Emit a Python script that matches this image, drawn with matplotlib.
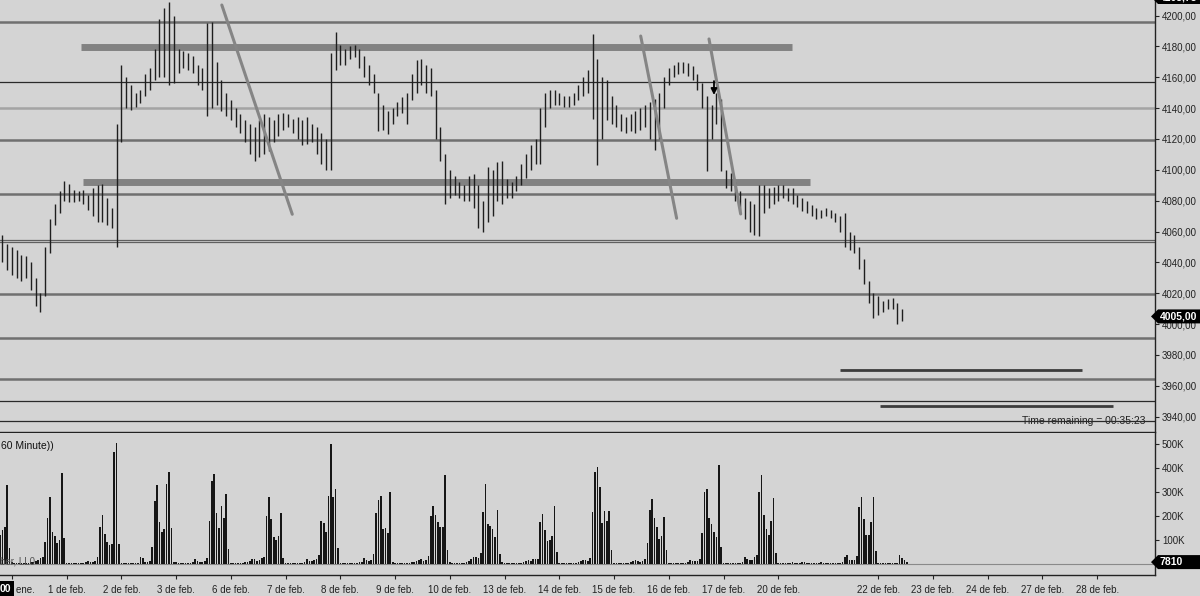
import matplotlib
matplotlib.use("Agg")
import matplotlib.pyplot as plt
from matplotlib.patches import Polygon
import numpy as np

plt.rcParams["font.family"] = ["Liberation Sans", "DejaVu Sans"]

BG = "#d4d4d4"

# ---- price bars (2-hour bars, x in hours from chart start) ----
highs = [
    4058, 4052, 4050, 4048, 4045, 4044, 4040, 4030, 4020, 4050,
    4068, 4078, 4086, 4093, 4091, 4087, 4086, 4087, 4084, 4088,
    4090, 4091, 4082, 4075, 4130, 4168, 4160, 4155, 4150, 4152,
    4162, 4166, 4178, 4198, 4205, 4209, 4200, 4178, 4177, 4176,
    4174, 4168, 4166, 4195, 4196, 4170, 4158, 4150, 4145, 4140,
    4136, 4132, 4130, 4128, 4132, 4136, 4134, 4132, 4136, 4137,
    4136, 4133, 4134, 4132, 4134, 4130, 4128, 4124, 4120, 4176,
    4189, 4181, 4178, 4180, 4181, 4178, 4174, 4168, 4162, 4150,
    4142, 4138, 4140, 4144, 4147, 4150, 4162, 4171, 4172, 4168,
    4166, 4152, 4128, 4110, 4100, 4096, 4092, 4090, 4096, 4097,
    4090, 4080, 4102, 4100, 4105, 4106, 4094, 4092, 4096, 4104,
    4110, 4116, 4120, 4140, 4150, 4152, 4152, 4150, 4148, 4148,
    4150, 4155, 4160, 4165, 4188, 4172, 4160, 4158, 4148, 4142,
    4136, 4134, 4136, 4138, 4140, 4142, 4144, 4146, 4150, 4160,
    4166, 4168, 4170, 4170, 4169, 4167, 4162, 4156, 4148, 4142,
    4150, 4146, 4100, 4098, 4092, 4086, 4082, 4080, 4078, 4090,
    4090, 4088, 4089, 4090, 4090, 4088, 4088, 4084, 4082, 4080,
    4077, 4075, 4074, 4075, 4074, 4072, 4070, 4072, 4060, 4058,
    4050, 4042, 4028, 4020, 4018, 4015, 4016, 4017, 4014, 4010,
]
lows = [
    4040, 4035, 4032, 4030, 4028, 4030, 4022, 4012, 4008, 4018,
    4046, 4064, 4072, 4080, 4079, 4079, 4080, 4078, 4074, 4070,
    4066, 4066, 4064, 4062, 4050, 4118, 4140, 4139, 4141, 4143,
    4148, 4152, 4158, 4160, 4160, 4155, 4156, 4163, 4166, 4165,
    4163, 4155, 4152, 4135, 4140, 4142, 4138, 4135, 4132, 4128,
    4124, 4118, 4110, 4106, 4108, 4110, 4112, 4118, 4122, 4126,
    4128, 4124, 4120, 4116, 4117, 4118, 4110, 4104, 4100, 4100,
    4165, 4168, 4168, 4172, 4173, 4166, 4160, 4155, 4150, 4125,
    4126, 4123, 4130, 4135, 4137, 4130, 4145, 4150, 4155, 4150,
    4148, 4120, 4106, 4078, 4082, 4084, 4082, 4080, 4080, 4075,
    4062, 4060, 4066, 4070, 4080, 4078, 4082, 4082, 4086, 4090,
    4095, 4100, 4104, 4104, 4128, 4140, 4142, 4142, 4141, 4141,
    4142, 4145, 4148, 4150, 4133, 4103, 4120, 4132, 4130, 4128,
    4125, 4124, 4125, 4124, 4126, 4128, 4120, 4113, 4120, 4140,
    4155, 4160, 4162, 4163, 4161, 4158, 4152, 4140, 4099, 4120,
    4130, 4099, 4088, 4086, 4080, 4072, 4068, 4060, 4058, 4057,
    4072, 4075, 4078, 4080, 4082, 4080, 4078, 4076, 4073, 4072,
    4070, 4068, 4069, 4070, 4069, 4066, 4060, 4050, 4048, 4046,
    4036, 4026, 4014, 4004, 4006, 4008, 4010, 4010, 4000, 4002,
]

# ---- hourly volume (K), one list per session ----
vol_pre = [120, 140, 154, 330, 66]
vol_31ene = [8, 6, 5, 4, 5, 4, 6, 5, 9, 7, 12, 18, 24, 28, 93, 192, 280, 135, 117, 87, 100, 380, 108]
vol_1feb = [6, 5, 4, 4, 3, 4, 5, 6, 8, 12, 10, 8, 14, 31, 154, 203, 123, 90, 79, 83, 468, 505, 83]
vol_2feb = [6, 5, 4, 4, 3, 4, 5, 6, 30, 25, 10, 8, 12, 71, 264, 330, 176, 132, 144, 332, 383, 148, 8]
vol_3feb = [7, 5, 4, 4, 3, 5, 6, 8, 20, 14, 10, 9, 14, 25, 180, 345, 375, 211, 151, 240, 190, 292, 61]
vol_6feb = [6, 5, 4, 4, 4, 6, 9, 8, 14, 22, 20, 12, 18, 26, 30, 200, 278, 186, 111, 100, 117, 214, 26]
vol_7feb = [6, 5, 4, 4, 3, 4, 5, 6, 10, 22, 14, 12, 16, 20, 36, 180, 172, 135, 284, 500, 280, 311, 66]
vol_8feb = [6, 5, 4, 4, 3, 4, 5, 6, 8, 10, 24, 18, 12, 16, 40, 211, 267, 284, 144, 148, 128, 298, 10]
vol_9feb = [6, 5, 4, 5, 4, 5, 6, 7, 10, 14, 18, 20, 12, 18, 33, 200, 242, 204, 175, 155, 155, 371, 58]
vol_10feb = [7, 6, 5, 4, 4, 5, 6, 8, 12, 20, 30, 28, 26, 45, 217, 332, 167, 158, 146, 114, 225, 42, 10]
vol_13feb = [6, 5, 4, 4, 3, 4, 5, 6, 8, 12, 15, 14, 20, 21, 21, 175, 208, 142, 97, 100, 117, 243, 50]
vol_14feb = [6, 5, 4, 4, 3, 4, 5, 6, 10, 14, 18, 16, 12, 25, 215, 382, 403, 321, 171, 221, 181, 221, 58]
vol_15feb = [6, 5, 4, 4, 3, 4, 6, 8, 12, 18, 14, 10, 12, 20, 87, 226, 271, 190, 153, 104, 117, 197, 58]
vol_16feb = [6, 5, 4, 4, 3, 4, 5, 6, 10, 16, 14, 12, 14, 22, 128, 301, 311, 190, 167, 135, 111, 414, 71]
vol_17feb = [6, 5, 4, 4, 3, 4, 5, 6, 8, 30, 20, 15, 15, 28, 36, 301, 371, 204, 146, 121, 181, 276, 45]
vol_20feb = [6, 5, 5, 4, 4, 5, 8, 6, 5, 6, 8, 7, 6, 5, 4, 4, 5, 6, 7]
vol_21feb = [6, 5, 4, 4, 3, 4, 5, 6, 8, 30, 36, 15, 16, 18, 35, 236, 278, 186, 120, 121, 175, 281, 55]
vol_22feb = [6, 5, 5, 4, 4, 5, 4, 3, 5, 37, 26, 17, 7.81]

sessions = [vol_31ene, vol_1feb, vol_2feb, vol_3feb, vol_6feb, vol_7feb, vol_8feb,
            vol_9feb, vol_10feb, vol_13feb, vol_14feb, vol_15feb, vol_16feb,
            vol_17feb, vol_20feb, vol_21feb, vol_22feb]
session_labels = ["31 de ene.", "1 de feb.", "2 de feb.", "3 de feb.", "6 de feb.",
                  "7 de feb.", "8 de feb.", "9 de feb.", "10 de feb.", "13 de feb.",
                  "14 de feb.", "15 de feb.", "16 de feb.", "17 de feb.", "20 de feb.",
                  "", "22 de feb."]
future_labels = ["23 de feb.", "24 de feb.", "27 de feb.", "28 de feb."]

# drawn objects (hour, price)
h_levels = [
    (4195.5, "#707070", 1.8), (4157, "#2a2a2a", 0.9), (4140, "#a4a4a4", 1.8),
    (4119.5, "#707070", 1.8), (4084.5, "#707070", 1.8), (4054.8, "#606060", 0.9),
    (4053.2, "#606060", 0.9), (4019.5, "#707070", 1.8), (3991, "#707070", 1.8),
    (3964.5, "#707070", 1.8), (3950, "#2a2a2a", 0.9), (3937, "#2a2a2a", 0.9),
]
bands = [(4179.3, 34.0, 332.7), (4091.8, 34.9, 340.5)]
short_lines = [(3970.3, 352.9, 454.6), (3947.0, 369.7, 467.6)]
trendlines = [((93.2, 4206.8), (122.8, 4071.2)),
              ((269.2, 4186.7), (284.3, 4068.6)),
              ((297.9, 4184.8), (311.2, 4071.4))]

W, H = 1200, 596
fig = plt.figure(figsize=(12, 5.96), dpi=100, facecolor=BG)
ax = fig.add_axes([0, 1 - 432 / H, 1155 / W, 432 / H], facecolor=BG)
axv = fig.add_axes([0, 1 - 575 / H, 1155 / W, 142 / H], facecolor=BG)

XMAX = 1155 / 2.38

# price panel
for y, c, lw in h_levels:
    ax.axhline(y, color=c, lw=lw, zorder=1)
for y, x0, x1 in bands:
    ax.plot([x0, x1], [y, y], color="#828282", lw=5, solid_capstyle="butt", zorder=2)
for y, x0, x1 in short_lines:
    ax.plot([x0, x1], [y, y], color="#3c3c3c", lw=2, solid_capstyle="butt", zorder=2)

xb = np.arange(len(highs)) * 2 + 1
ax.vlines(xb, lows, highs, color="#1e1e1e", lw=1.0, zorder=3)

for (x0, y0), (x1, y1) in trendlines:
    ax.plot([x0, x1], [y0, y1], color="#858585", lw=2.2, solid_capstyle="round", zorder=4)

ax.annotate("", xy=(300, 4148.5), xytext=(300, 4157.5),
            arrowprops=dict(arrowstyle="-|>", color="black", lw=1.3, mutation_scale=9,
                            shrinkA=0, shrinkB=0), zorder=5)

ax.set_xlim(0, XMAX)
ax.set_ylim(3930.1, 4210.05)
ax.yaxis.tick_right()
ax.set_yticks(range(3940, 4201, 20))
ax.set_yticklabels([f"{v:.2f}".replace(".", ",") for v in range(3940, 4201, 20)])
ax.set_xticks([])
ax.tick_params(axis="y", direction="out", length=3, width=0.8, labelsize=7, pad=2, colors="#222222")
for s in ["top", "left"]:
    ax.spines[s].set_visible(False)
for s in ["right", "bottom"]:
    ax.spines[s].set_color("#222222")
    ax.spines[s].set_linewidth(1)

ax.text(1145 / 2.38, 3937, "Time remaining = 00:35:23", ha="right", va="center",
        fontsize=7.5, color="#222222", zorder=0.5)

# volume panel
vol = list(vol_pre)
ticks = []
for s in sessions:
    ticks.append(len(vol))
    vol.extend(s)
vol = np.array(vol) * 1000
xv = np.arange(len(vol))
axv.axhline(0, color="#8a8a8a", lw=0.8, zorder=1)
axv.bar(xv, vol, width=0.7, color="#161616", zorder=2)

tick_pos = [t for t, lab in zip(ticks, session_labels) if lab]
tick_lab = [lab for lab in session_labels if lab]
nxt = ticks[-1]
for lab in future_labels:
    nxt += 23
    tick_pos.append(nxt)
    tick_lab.append(lab)

axv.set_xlim(0, XMAX)
axv.set_ylim(-46000, 546000)
axv.yaxis.tick_right()
vt = [100000, 200000, 300000, 400000, 500000]
axv.set_yticks(vt)
axv.set_yticklabels([f"{v // 1000}K" for v in vt])
axv.set_xticks(tick_pos)
axv.set_xticklabels(tick_lab)
axv.tick_params(axis="both", direction="out", length=3, width=0.8, labelsize=7, pad=2, colors="#222222")
axv.tick_params(axis="x", pad=4)
for s in ["top", "left"]:
    axv.spines[s].set_visible(False)
for s in ["right", "bottom"]:
    axv.spines[s].set_color("#222222")
    axv.spines[s].set_linewidth(1)

fig.text(1 / W, 1 - 446 / H, "60 Minute))", fontsize=7.5, color="#111111", va="center", ha="left")
fig.text(0, 1 - 562 / H, "ber, LL0", fontsize=7, color="#555555", va="center", ha="left")


def tag(y_px, txt):
    h = 7
    pts = [(1151, y_px), (1158, y_px - h), (1200, y_px - h), (1200, y_px + h), (1158, y_px + h)]
    pts = [(x / W, 1 - y / H) for x, y in pts]
    fig.add_artist(Polygon(pts, closed=True, transform=fig.transFigure, facecolor="black",
                           edgecolor="none"))
    fig.text(1160 / W, 1 - y_px / H, txt, color="white", fontsize=7.5, fontweight="bold",
             va="center", ha="left")


last_price = 4005.0
y_last = H - ax.transData.transform((0, last_price))[1]
tag(y_last, f"{last_price:.2f}".replace(".", ","))
tag(-3, "4205,75")
y_vol = H - axv.transData.transform((0, vol[-1]))[1]
tag(y_vol, f"{int(vol[-1])}")

# clipped time label at bottom-left
fig.text(0, 1 - 589 / H, "00", color="white", fontsize=7.5, fontweight="bold", va="center",
         ha="left", bbox=dict(boxstyle="square,pad=0.25", facecolor="black", edgecolor="none"))

fig.savefig("out.png", dpi=100, facecolor=BG)
